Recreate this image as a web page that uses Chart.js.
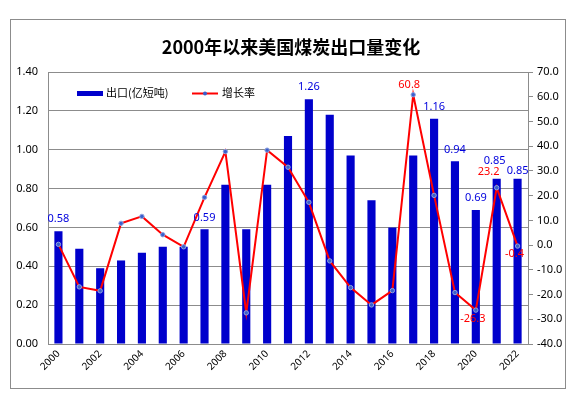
<!DOCTYPE html>
<html><head><meta charset="utf-8">
<script src="https://cdn.jsdelivr.net/npm/chart.js@4.4.1/dist/chart.umd.min.js"></script>
<style>html,body{margin:0;padding:0;background:#fff;}#wrap{width:576px;height:399px;}</style>
</head><body><div id="wrap"><canvas id="c" width="576" height="399"></canvas></div>
<script>
const titleText = '2000年以来美国煤炭出口量变化';
const years = ['2000','2001','2002','2003','2004','2005','2006','2007','2008','2009','2010','2011','2012','2013','2014','2015','2016','2017','2018','2019','2020','2021','2022'];
const exportVals = [0.58,0.49,0.39,0.43,0.47,0.50,0.50,0.59,0.82,0.59,0.82,1.07,1.26,1.18,0.97,0.74,0.60,0.97,1.16,0.94,0.69,0.85,0.85];
const growthVals = [0.3,-16.9,-18.5,8.8,11.6,4.2,-0.7,19.3,37.8,-27.4,38.4,31.5,17.3,-6.4,-17.2,-24.2,-18.4,60.8,20.1,-19.2,-26.3,23.2,-0.4];
const seriesNames = ['出口(亿短吨)','增长率'];
const barLabelIdx = [0,7,12,18,19,20,21,22];
const lineLabelIdx = [17,20,21,22];

const FONT = '"Noto Sans","DejaVu Sans",sans-serif';
const CJK = '"Noto Sans CJK SC","Noto Sans",sans-serif';

const decor = {
  id: 'decor',
  beforeDraw(chart) {
    const ctx = chart.ctx;
    ctx.save();
    ctx.fillStyle = '#fff';
    ctx.fillRect(0,0,chart.width,chart.height);
    ctx.strokeStyle = '#8c8c8c';
    ctx.lineWidth = 1;
    ctx.strokeRect(10.5,19.5,555,369);
    ctx.fillStyle = '#000';
    ctx.font = 'bold 18px ' + CJK;
    ctx.textAlign = 'center';
    ctx.textBaseline = 'middle';
    ctx.fillText(titleText, 291, 47);
    ctx.restore();
  },
  afterDatasetsDraw(chart) {
    const ctx = chart.ctx;
    ctx.save();
    ctx.font = '11px ' + FONT;
    ctx.textAlign = 'center';
    ctx.textBaseline = 'middle';
    const bm = chart.getDatasetMeta(0);
    const barOff = {21: [-2,-18], 22: [0,-8]};
    ctx.fillStyle = '#0000dd';
    barLabelIdx.forEach(i => {
      const el = bm.data[i];
      const o = barOff[i] || [0,-12];
      ctx.fillText(exportVals[i].toFixed(2), el.x + o[0], el.y + o[1]);
    });
    const lm = chart.getDatasetMeta(1);
    const lineOff = {17: [-4,-10], 20: [-3,9], 21: [-8,-16], 22: [-3,8]};
    ctx.fillStyle = '#ff0000';
    lineLabelIdx.forEach(i => {
      const el = lm.data[i];
      const o = lineOff[i] || [0,-10];
      ctx.fillText(growthVals[i].toFixed(1), el.x + o[0], el.y + o[1]);
    });
    ctx.restore();
  },
  afterDraw(chart) {
    const ctx = chart.ctx;
    ctx.save();
    // legend
    ctx.fillStyle = '#0000cc';
    ctx.fillRect(77, 91, 26, 5);
    ctx.fillStyle = '#000';
    ctx.font = '11px ' + CJK;
    ctx.textBaseline = 'middle';
    ctx.textAlign = 'left';
    ctx.fillText(seriesNames[0], 106, 93);
    ctx.strokeStyle = '#ff0000';
    ctx.lineWidth = 2;
    ctx.beginPath(); ctx.moveTo(192, 93.5); ctx.lineTo(218, 93.5); ctx.stroke();
    ctx.fillStyle = '#3a5fcd';
    ctx.beginPath(); ctx.arc(205, 93.5, 2, 0, Math.PI*2); ctx.fill();
    ctx.fillStyle = '#000';
    ctx.fillText(seriesNames[1], 222, 93);
    ctx.restore();
  }
};

new Chart(document.getElementById('c'), {
  type: 'bar',
  data: {
    labels: years,
    datasets: [
      { type: 'bar', label: seriesNames[0], data: exportVals, backgroundColor: '#0000cc', yAxisID: 'y',
        barPercentage: 0.39, categoryPercentage: 1.0, order: 2 },
      { type: 'line', label: seriesNames[1], data: growthVals, yAxisID: 'y1', borderColor: '#ff0000', borderWidth: 2,
        tension: 0, pointRadius: 2.2, pointBackgroundColor: '#3a5fcd', pointBorderColor: '#8fa3e0', pointBorderWidth: 1, order: 1 }
    ]
  },
  options: {
    responsive: false, animation: false, devicePixelRatio: 1,
    layout: { padding: { top: 72, left: 0, right: 0, bottom: 0 } },
    plugins: { legend: { display: false }, title: { display: false }, tooltip: { enabled: false } },
    scales: {
      x: {
        grid: { display: false, drawTicks: false },
        border: { display: true, color: '#8c8c8c' },
        ticks: { autoSkip: false, minRotation: 45, maxRotation: 45, padding: 4, color: '#000',
          font: { size: 10, family: FONT },
          callback: function(v, i) { return i % 2 === 0 ? years[i] : ''; } },
        afterFit(s) { s.height = 55; }
      },
      y: {
        position: 'left', min: 0, max: 1.4,
        grid: { color: '#8c8c8c', drawTicks: false },
        border: { display: true, color: '#8c8c8c' },
        ticks: { stepSize: 0.2, padding: 10, color: '#000', font: { size: 11, family: FONT },
          callback: v => Number(v).toFixed(2) },
        afterFit(s) { s.width = 48; }
      },
      y1: {
        position: 'right', min: -40, max: 70,
        grid: { drawOnChartArea: false, drawTicks: true, tickLength: 5, color: '#8c8c8c' },
        border: { display: true, color: '#8c8c8c' },
        ticks: { stepSize: 10, padding: 4, color: '#000', font: { size: 11, family: FONT },
          callback: v => Number(v).toFixed(1) },
        afterFit(s) { s.width = 48; }
      }
    }
  },
  plugins: [decor]
});
</script></body></html>
